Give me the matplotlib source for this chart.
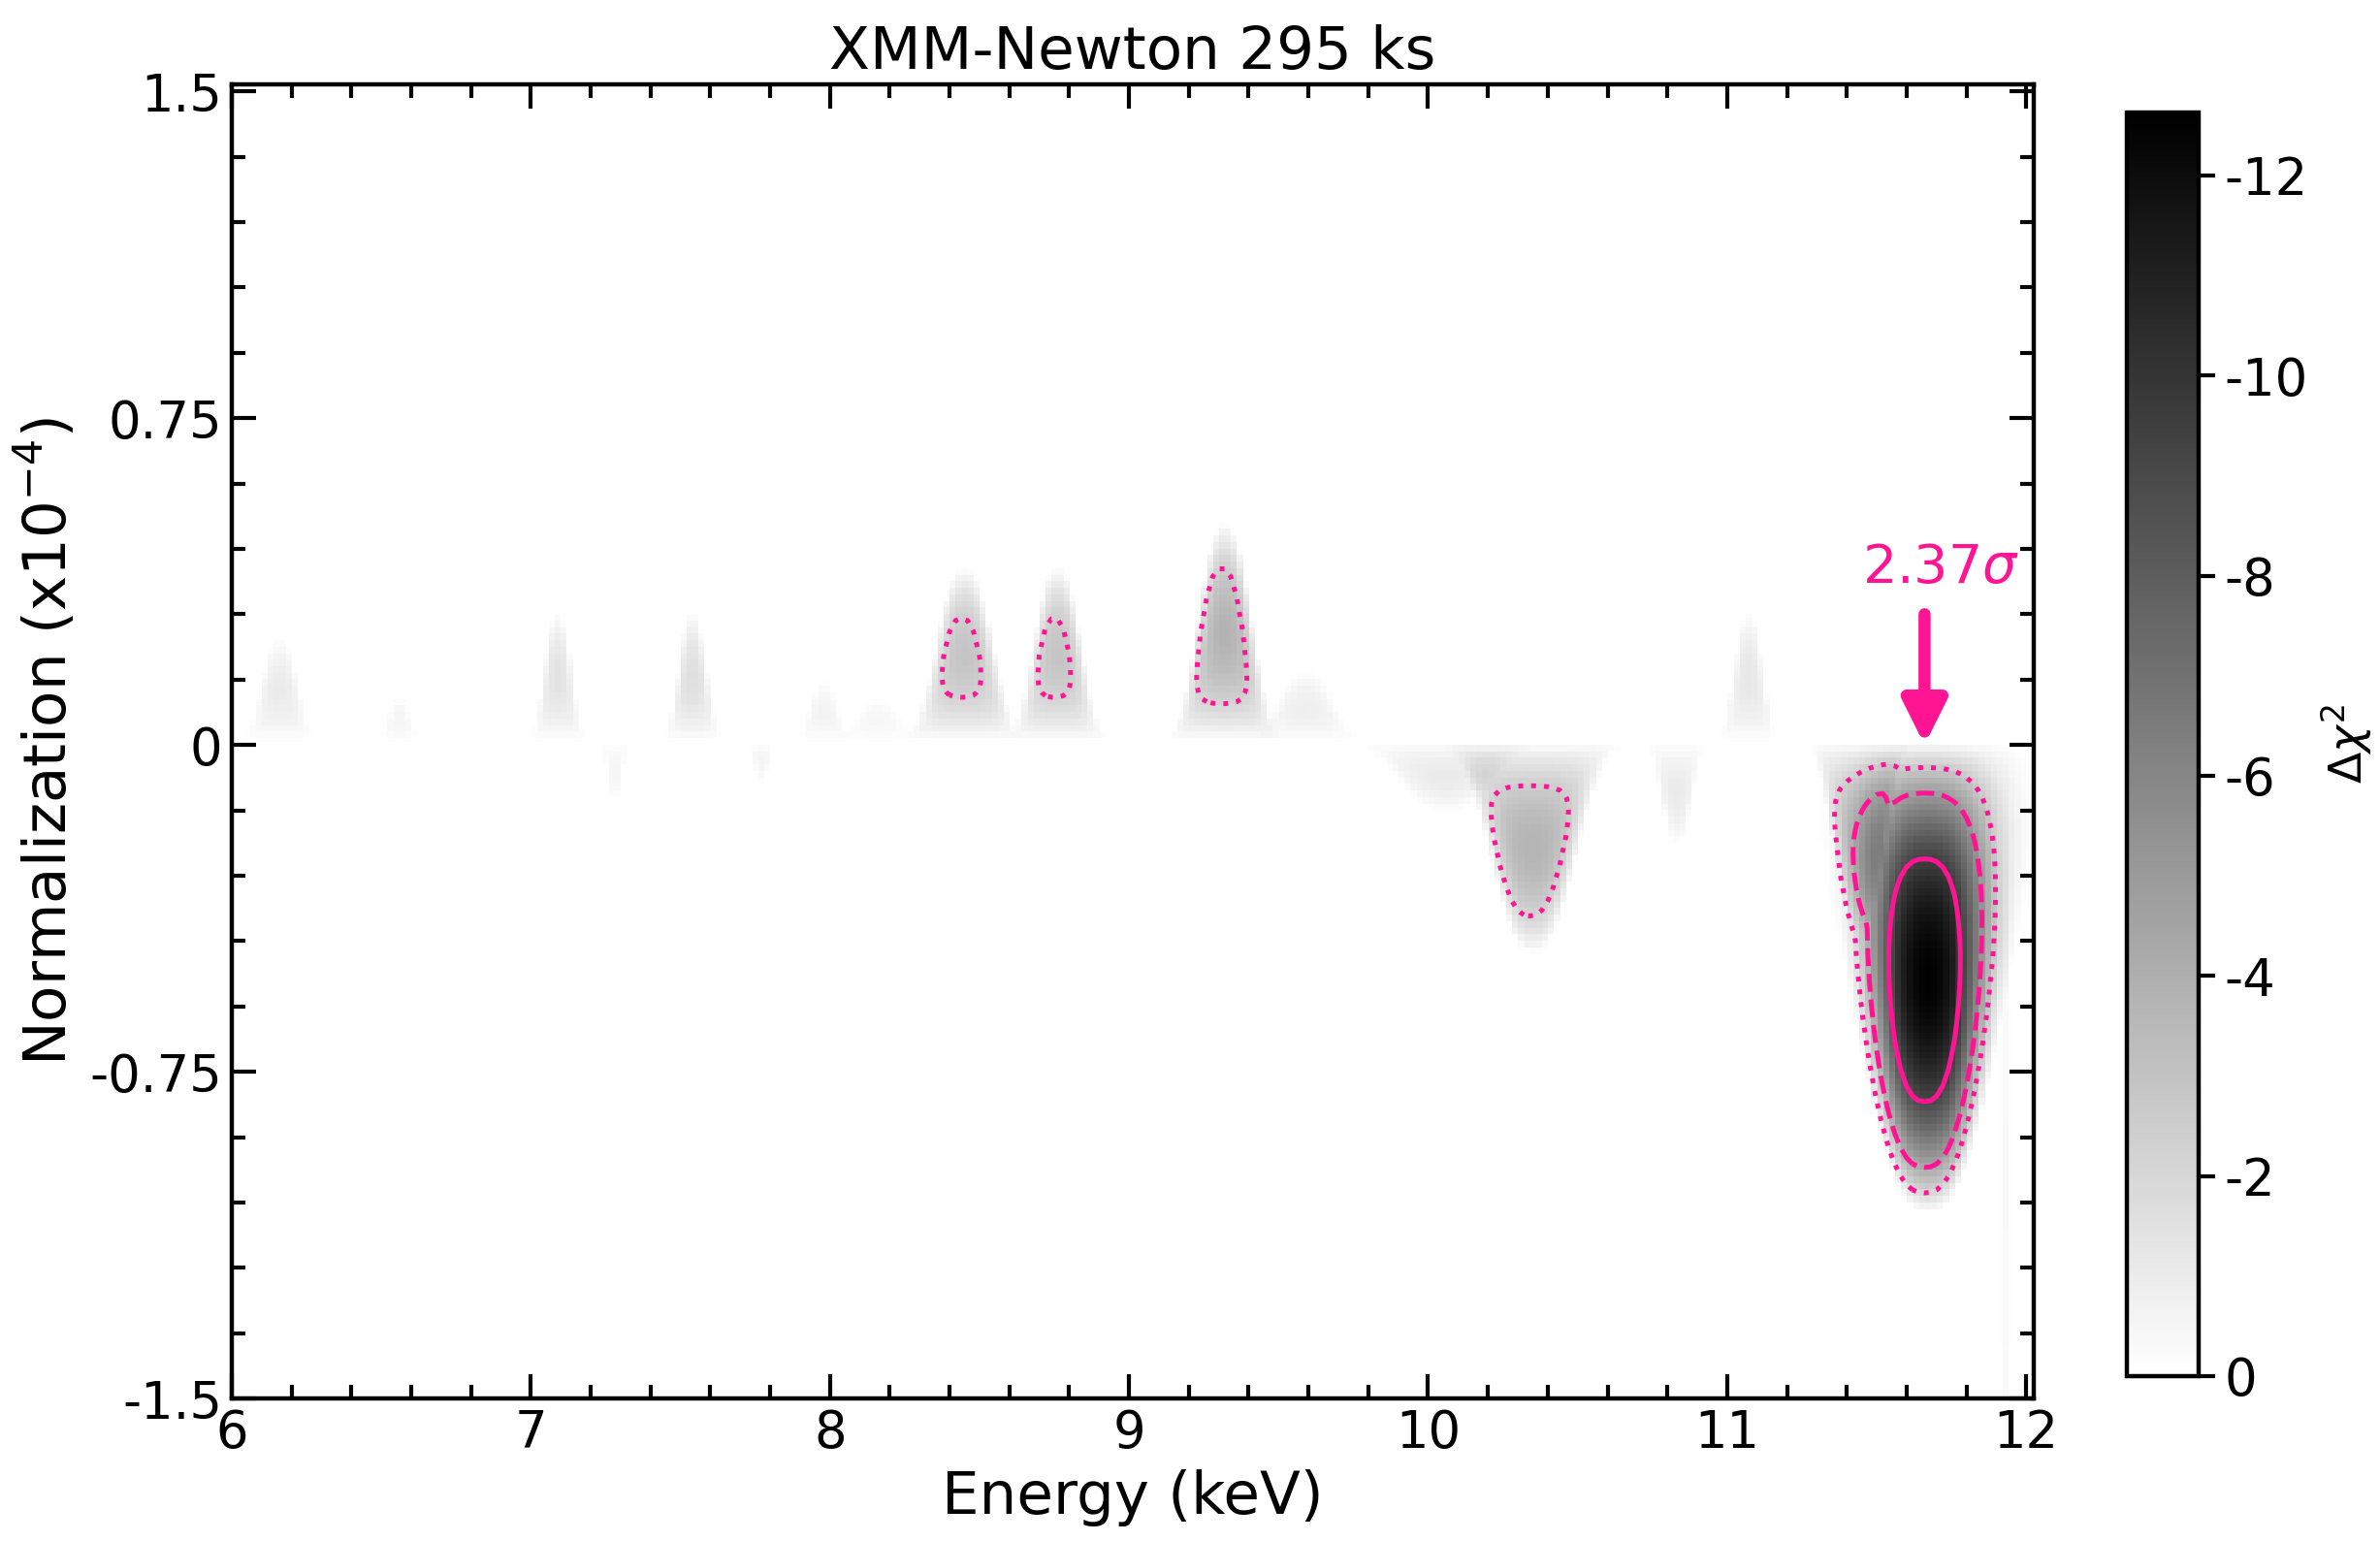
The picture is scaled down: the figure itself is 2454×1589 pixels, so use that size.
import numpy as np
import matplotlib
matplotlib.use("Agg")
import matplotlib.pyplot as plt
from matplotlib.ticker import MultipleLocator

PINK = "#FF1493"

# line components:
# energy (keV), best norm (1e-4), energy half-width, depth (-dchi2), drift of best norm with energy
line_energy = [6.15, 6.55, 7.08, 7.53, 7.97, 8.15, 8.44, 8.75, 9.31, 9.58, 11.06,
               7.27, 7.76, 10.05, 10.34, 10.82, 11.43, 11.66, 11.92]
line_norm   = [0.12, 0.05, 0.15, 0.15, 0.07, 0.05, 0.20, 0.20, 0.25, 0.08, 0.15,
               -0.07, -0.05, -0.08, -0.243, -0.12, -0.22, -0.54, -1.00]
line_width  = [0.058, 0.035, 0.045, 0.046, 0.045, 0.07, 0.09, 0.076, 0.086, 0.09, 0.047,
               0.025, 0.025, 0.15, 0.133, 0.05, 0.08, 0.145, 0.012]
line_depth  = [1.0, 0.5, 1.4, 1.6, 0.6, 0.4, 2.9, 2.9, 3.75, 0.8, 1.2,
               0.5, 0.5, 1.0, 3.7, 1.0, 2.6, 12.55, 0.35]
line_drift  = [1.0, 1.0, 1.0, 1.0, 1.0, 1.0, 1.0, 1.0, 1.0, 1.0, 1.0,
               1.0, 1.0, 1.0, 1.0, 1.0, 1.0, 0.28, 0.0]

levels = [-9.21, -4.61, -2.30]
level_styles = ["solid", "dashed", "dotted"]

energy = np.arange(6.0, 12.0001, 0.02)
norm = np.arange(-1.5, 1.5001, 0.015)
E, N = np.meshgrid(energy, norm)

dchi = np.zeros_like(E)
for ec, n0, w, d, a in zip(line_energy, line_norm, line_width, line_depth, line_drift):
    g = np.maximum(np.exp(-0.5 * np.abs((E - ec) / w) ** 2.5), 1e-30)
    n_e = n0 * g ** a
    comp = d * g * N * (N - 2 * n_e) / n_e ** 2
    dchi += np.minimum(np.nan_to_num(comp, nan=0.0, posinf=0.0, neginf=0.0), 0)
dchi = np.clip(dchi, -12.6, 0)

plt.rcParams.update({"font.size": 19, "axes.linewidth": 1.6})

fig = plt.figure(figsize=(12.27, 7.945), dpi=200)
ax = fig.add_axes([0.0974, 0.0924, 0.7571, 0.8526])
cax = fig.add_axes([0.8938, 0.107, 0.0301, 0.820])

im = ax.imshow(dchi, origin="lower", extent=[6, 12.02, -1.5, 1.515], aspect="auto",
               cmap="gray", vmin=-12.63, vmax=0, interpolation="nearest")
ax.contour(E, N, dchi, levels=levels, colors=PINK, linestyles=level_styles, linewidths=1.8)

ax.set_xlim(6, 12.025)
ax.set_ylim(-1.5, 1.515)
ax.set_yticks([-1.5, -0.75, 0, 0.75, 1.5])
ax.set_yticklabels(["-1.5", "-0.75", "0", "0.75", "1.5"])
ax.xaxis.set_major_locator(MultipleLocator(1))
ax.xaxis.set_minor_locator(MultipleLocator(0.2))
ax.yaxis.set_minor_locator(MultipleLocator(0.15))
ax.tick_params(which="both", direction="in", top=True, right=True, width=1.5,
               labelsize=19)
ax.tick_params(which="major", length=9)
ax.tick_params(which="minor", length=5)

ax.set_xlabel("Energy (keV)", fontsize=22)
ax.set_ylabel(r"Normalization (x10$^{-4}$)", fontsize=22)
ax.set_title("XMM-Newton 295 ks", fontsize=22, pad=6)

ax.annotate("", xy=(11.66, 0.0), xytext=(11.66, 0.30),
            arrowprops=dict(arrowstyle="-|>,head_width=0.35,head_length=0.7",
                            color=PINK, lw=4.5, shrinkA=0, shrinkB=0))
ax.text(11.715, 0.345, r"2.37$\sigma$", color=PINK, fontsize=20, ha="center", va="bottom")

cb = fig.colorbar(im, cax=cax)
cb.set_ticks([0, -2, -4, -6, -8, -10, -12])
cb.set_ticklabels(["0", "-2", "-4", "-6", "-8", "-10", "-12"])
cb.ax.invert_yaxis()
cb.ax.tick_params(length=6, width=1.5, labelsize=19)
cb.outline.set_linewidth(1.6)
cb.set_label(r"$\Delta\chi^2$", fontsize=17, labelpad=4)

fig.savefig("out.png", dpi=200)
